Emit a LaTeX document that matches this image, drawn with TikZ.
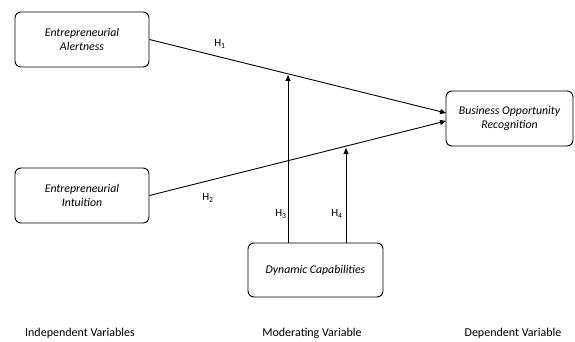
\documentclass[tikz,border=0pt]{standalone}
\usepackage{fontspec}
\setmainfont{Carlito}
\usetikzlibrary{arrows.meta}

\begin{document}
\begin{tikzpicture}[x=1pt, y=-1pt, line width=.9pt,
  every node/.style={font=\fontsize{11}{13}\selectfont},
  var/.style={draw, rounded corners=6pt, minimum width=134pt, minimum height=55pt, align=center, font=\fontsize{11.8}{14}\selectfont\itshape},
  group/.style={font=\fontsize{12}{14}\selectfont},
  hyp/.style={-{Triangle[length=6pt, width=5pt]}}]
  \useasboundingbox (0,0) rectangle (575,342);
  \node [var] (alert) at (82, 39.5) {Entrepreneurial\\Alertness};
  \node [var] (intui) at (82, 195.5) {Entrepreneurial\\Intuition};
  \node [var, minimum width=127pt] (bor) at (509.5, 118.5) {Business Opportunity\\Recognition};
  \node [var, minimum width=135pt, minimum height=54pt] (dyn) at (315.5, 270) {Dynamic Capabilities};
  \coordinate (in1) at (446, 113);
  \coordinate (in2) at (446, 121);
  \coordinate (m3) at (288, 75);
  \coordinate (m4) at (346, 148);
  \draw [hyp] (alert.east) -- (in1);
  \draw [hyp] (intui.east) -- (in2);
  \draw [hyp] (m3 |- dyn.north) -- (m3);
  \draw [hyp] (m4 |- dyn.north) -- (m4);
  \node (h1) at (220, 44) {H\textsubscript{1}};
  \node (h2) at (208, 198) {H\textsubscript{2}};
  \node (h3) at (281, 214) {H\textsubscript{3}};
  \node (h4) at (337, 214) {H\textsubscript{4}};
  \node [group] (iv) at (80, 333) {Independent Variables};
  \node [group] (mv) at (312, 333) {Moderating Variable};
  \node [group] (dv) at (513, 333) {Dependent Variable};
\end{tikzpicture}
\end{document}
